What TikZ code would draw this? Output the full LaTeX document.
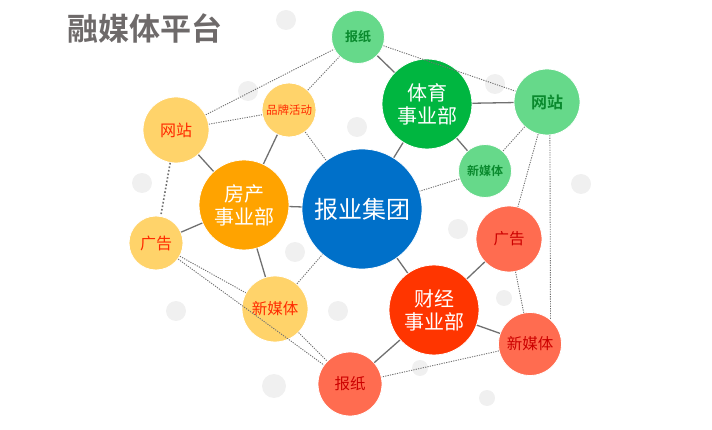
\documentclass[tikz,border=0pt]{standalone}
\usepackage{fontspec}
\newfontfamily\cjk{Noto Sans CJK SC}[BoldFont={Noto Sans CJK SC Bold}]
\definecolor{cblue}{HTML}{0070C9}
\definecolor{corange}{HTML}{FFA300}
\definecolor{cyellow}{HTML}{FFD36A}
\definecolor{cgreen}{HTML}{00B640}
\definecolor{clgreen}{HTML}{66D98A}
\definecolor{cred}{HTML}{FF3500}
\definecolor{clred}{HTML}{FF6C50}
\definecolor{tred}{HTML}{FF2A00}
\definecolor{tgreen}{HTML}{0A8A2E}
\definecolor{tdred}{HTML}{CC0000}
\definecolor{cline}{HTML}{707070}
\definecolor{cdot}{HTML}{F0F0F0}
\definecolor{ctitle}{HTML}{6E6A6A}
\tikzset{
  bub/.style={circle,inner sep=0pt,align=center,draw=white,line width=0.8pt},
  solidlink/.style={draw=cline,line width=1.3pt},
  dotlink/.style={draw=cline,line width=0.9pt,dash pattern=on 1.2pt off 1.2pt},
  bgdot/.style={fill=cdot},
}
\begin{document}
\begin{tikzpicture}[x=1pt,y=-1pt]
\useasboundingbox (0,0) rectangle (712,430);
% background dots
\foreach \p/\r in {{(286,20)}/10,{(248,91)}/10,{(495,84)}/10,{(357,127)}/10,{(142,183)}/10,{(581,184)}/10,{(295,252)}/10,{(458,229)}/10,{(176,311)}/10,{(338,311)}/10,{(504,298)}/8,{(274,386)}/12,{(420,368)}/8,{(487,398)}/8}
  \fill[bgdot] \p circle (\r);
% title
\node[font=\cjk\bfseries\fontsize{31}{34}\selectfont,text=ctitle,anchor=west] (title) at (64,28) {融媒体平台};
% nodes
\node[bub,fill=cblue,minimum size=120pt,text=white,font=\cjk\fontsize{24}{28}\selectfont] (hub) at (362,209) {报业集团};
\node[bub,fill=corange,minimum size=90pt,text=white,font=\cjk\fontsize{20}{23}\selectfont] (fc) at (244,205) {房产\\事业部};
\node[bub,fill=cgreen,minimum size=90pt,text=white,font=\cjk\fontsize{20}{23}\selectfont] (ty) at (427,104) {体育\\事业部};
\node[bub,fill=cred,minimum size=90pt,text=white,font=\cjk\fontsize{20}{23}\selectfont] (cj) at (434,310) {财经\\事业部};
% yellow
\node[bub,fill=cyellow,minimum size=66pt,text=tred,font=\cjk\fontsize{16}{18}\selectfont] (ywz) at (176,130) {网站};
\node[bub,fill=cyellow,minimum size=54pt,text=tred,font=\cjk\fontsize{11.5}{13}\selectfont] (ypp) at (289,110) {品牌活动};
\node[bub,fill=cyellow,minimum size=54pt,text=tred,font=\cjk\fontsize{16}{18}\selectfont] (ygg) at (156,243) {广告};
\node[bub,fill=cyellow,minimum size=66pt,text=tred,font=\cjk\fontsize{15.5}{18}\selectfont] (ymt) at (275,309) {新媒体};
% green
\node[bub,fill=clgreen,minimum size=53pt,text=tgreen,font=\cjk\bfseries\fontsize{13}{15}\selectfont] (gbz) at (358,37) {报纸};
\node[bub,fill=clgreen,minimum size=66pt,text=tgreen,font=\cjk\bfseries\fontsize{16}{18}\selectfont] (gwz) at (547,102) {网站};
\node[bub,fill=clgreen,minimum size=53pt,text=tgreen,font=\cjk\bfseries\fontsize{12}{14}\selectfont] (gmt) at (485,171) {新媒体};
% red
\node[bub,fill=clred,minimum size=64pt,text=tdred,font=\cjk\fontsize{15.5}{18}\selectfont] (rbz) at (350,384) {报纸};
\node[bub,fill=clred,minimum size=66pt,text=tdred,font=\cjk\fontsize{15.5}{18}\selectfont] (rgg) at (509,239) {广告};
\node[bub,fill=clred,minimum size=63pt,text=tdred,font=\cjk\fontsize{15.5}{18}\selectfont] (rmt) at (530,344) {新媒体};
% solid links
\draw[solidlink] (fc) -- (ywz);
\draw[solidlink] (fc) -- (ypp);
\draw[solidlink] (fc) -- (ygg);
\draw[solidlink] (fc) -- (ymt);
\draw[solidlink] (fc) -- (hub);
\draw[solidlink] (ty) -- (gbz);
\draw[solidlink] (ty) -- (gwz);
\draw[solidlink] (ty) -- (gmt);
\draw[solidlink] (ty) -- (hub);
\draw[solidlink] (cj) -- (hub);
\draw[solidlink] (cj) -- (rgg);
\draw[solidlink] (cj) -- (rmt);
\draw[solidlink] (cj) -- (rbz);
% dotted links
\draw[dotlink] (ywz) -- (gbz);
\draw[dotlink] (ywz) -- (ypp);
\draw[dotlink] (ypp) -- (gbz);
\draw[dotlink] (ypp) -- (hub);
\draw[dotlink,line width=1.6pt,dash pattern=on 1.6pt off 2pt] (ywz) -- (ygg);
\draw[dotlink] (ygg) -- (ymt);
\draw[dotlink] (ygg) -- (rbz);
\draw[dotlink] (ymt) -- (rbz);
\draw[dotlink] (ymt) -- (hub);
\draw[dotlink] (gbz) -- (gwz);
\draw[dotlink] (gwz) -- (gmt);
\draw[dotlink] (gmt) -- (hub);
\draw[dotlink] (gwz) -- (rgg);
\draw[dotlink] (gwz.-85) -- (rmt.50);
\draw[dotlink] (rgg) -- (rmt);
\draw[dotlink] (rmt) -- (rbz);
\end{tikzpicture}
\end{document}
